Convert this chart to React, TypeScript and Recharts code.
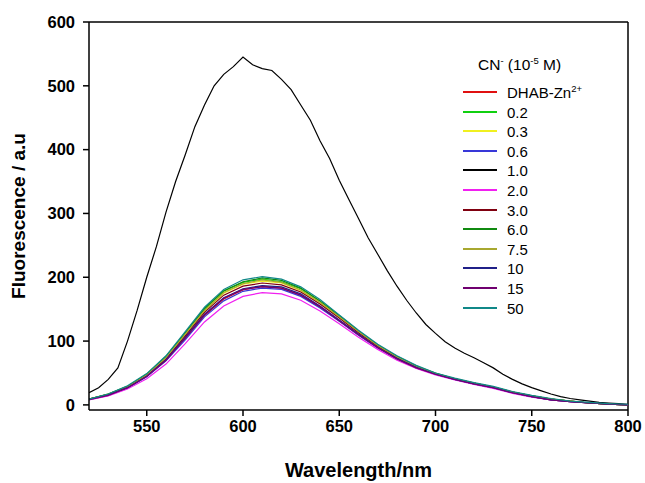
import React from 'react';
import { LineChart, Line, XAxis, YAxis, Legend, Label, ReferenceLine } from 'recharts';

const wavelengthsFine = [
  520, 525, 530, 535, 540, 545, 550, 555, 560, 565, 570, 575, 580, 585, 590, 595, 600,
  605, 610, 615, 620, 625, 630, 635, 640, 645, 650, 655, 660, 665, 670, 675, 680, 685, 690, 695, 700,
  705, 710, 715, 720, 725, 730, 735, 740, 745, 750, 755, 760, 765, 770, 775, 780, 785, 790, 795, 800,
];
const wavelengthsCoarse = [
  520, 530, 540, 550, 560, 570, 580, 590, 600, 610, 620, 630, 640, 650, 660, 670, 680, 690, 700,
  710, 720, 730, 740, 750, 760, 770, 780, 790, 800,
];

const cn10 = [
  19, 27, 40, 58, 100, 148, 200, 248, 302, 350, 392, 436, 470, 500, 518, 530, 545,
  533, 527, 524, 510, 494, 470, 446, 414, 386, 352, 322, 292, 262, 236, 210, 186, 164, 144, 126, 112,
  99, 89, 81, 74, 66, 58, 48, 40, 33, 27, 22, 17, 13, 10, 8, 6, 4, 3, 2, 1,
];
const dhab = [9, 16, 27, 45, 70, 104, 140, 166, 180, 186, 183, 172, 153, 132, 110, 90, 72, 58, 48, 40, 33, 27, 19, 13, 8, 5, 3, 1, 0];
const cn02 = [9, 17, 29, 48, 75, 112, 150, 178, 192, 197, 193, 182, 162, 139, 115, 93, 75, 60, 49, 41, 34, 28, 20, 14, 9, 6, 3, 1, 0];
const cn03 = [9, 16, 28, 47, 73, 110, 147, 175, 189, 194, 191, 179, 160, 137, 114, 92, 74, 60, 49, 41, 34, 28, 20, 14, 9, 6, 3, 1, 0];
const cn06 = [8, 15, 26, 44, 69, 102, 138, 163, 178, 183, 181, 170, 152, 131, 109, 89, 72, 58, 48, 40, 33, 27, 19, 13, 8, 5, 3, 1, 0];
const cn20 = [8, 14, 25, 41, 64, 96, 130, 155, 170, 176, 174, 164, 147, 127, 106, 87, 70, 57, 47, 39, 32, 26, 18, 12, 8, 5, 3, 1, 0];
const cn30 = [9, 16, 28, 46, 72, 108, 145, 172, 186, 191, 188, 177, 158, 136, 113, 92, 74, 60, 49, 41, 34, 28, 20, 14, 9, 6, 3, 1, 0];
const cn60 = [9, 17, 29, 48, 76, 113, 151, 179, 193, 199, 195, 183, 163, 140, 116, 94, 76, 61, 50, 41, 34, 28, 20, 14, 9, 6, 3, 1, 0];
const cn75 = [9, 17, 28, 47, 74, 111, 148, 176, 190, 196, 192, 180, 161, 138, 115, 93, 75, 60, 49, 41, 34, 28, 20, 14, 9, 6, 3, 1, 0];
const cn100 = [9, 16, 27, 45, 71, 106, 142, 168, 182, 187, 185, 174, 155, 133, 111, 90, 73, 59, 48, 40, 33, 27, 19, 13, 8, 5, 3, 1, 0];
const cn150 = [8, 15, 27, 45, 70, 105, 141, 167, 181, 185, 183, 172, 154, 132, 110, 90, 72, 58, 48, 40, 33, 27, 19, 13, 8, 5, 3, 1, 0];
const cn500 = [9, 17, 30, 49, 77, 115, 153, 181, 196, 201, 197, 185, 165, 141, 117, 95, 77, 62, 50, 42, 35, 29, 21, 15, 10, 6, 4, 2, 1];

const xTicks = [550, 600, 650, 700, 750, 800];
const yTicks = [0, 100, 200, 300, 400, 500, 600];

type Series = { key: string; label: string; color: string; x: number[]; y: number[] };

const seriesList: Series[] = [
  { key: 'dhab', label: 'DHAB-Zn', color: '#e01010', x: wavelengthsCoarse, y: dhab },
  { key: 'c02', label: '0.2', color: '#10d010', x: wavelengthsCoarse, y: cn02 },
  { key: 'c03', label: '0.3', color: '#f0f020', x: wavelengthsCoarse, y: cn03 },
  { key: 'c06', label: '0.6', color: '#3838d8', x: wavelengthsCoarse, y: cn06 },
  { key: 'c10', label: '1.0', color: '#000000', x: wavelengthsFine, y: cn10 },
  { key: 'c20', label: '2.0', color: '#f020f0', x: wavelengthsCoarse, y: cn20 },
  { key: 'c30', label: '3.0', color: '#800010', x: wavelengthsCoarse, y: cn30 },
  { key: 'c60', label: '6.0', color: '#108a10', x: wavelengthsCoarse, y: cn60 },
  { key: 'c75', label: '7.5', color: '#a8a830', x: wavelengthsCoarse, y: cn75 },
  { key: 'c100', label: '10', color: '#202088', x: wavelengthsCoarse, y: cn100 },
  { key: 'c150', label: '15', color: '#700070', x: wavelengthsCoarse, y: cn150 },
  { key: 'c500', label: '50', color: '#108888', x: wavelengthsCoarse, y: cn500 },
];

const font = '"Liberation Sans", Arial, sans-serif';

const LegendBox = () => (
  <div style={{ position: 'relative', width: 150, height: 270, fontFamily: font, fontSize: 15, color: '#000', lineHeight: 1 }}>
    <div style={{ position: 'absolute', left: 15, top: 0, height: 26, lineHeight: '26px', whiteSpace: 'nowrap', fontSize: 15.5 }}>
      CN<sup style={{ fontSize: 9.5, lineHeight: 0 }}>-</sup> (10<sup style={{ fontSize: 9.5, lineHeight: 0 }}>-5</sup> M)
    </div>
    {seriesList.map((s, i) => (
      <div
        key={s.key}
        style={{ position: 'absolute', left: 0, top: 30 + Math.round(i * 19.6), height: 20, width: 150, whiteSpace: 'nowrap' }}
      >
        <div style={{ position: 'absolute', left: 0, top: 9, width: 34, height: 2, background: s.color }} />
        <span style={{ position: 'absolute', left: 44, top: 3 }}>
          {s.label}
          {s.key === 'dhab' ? <sup style={{ fontSize: 9.5, lineHeight: 0 }}>2+</sup> : null}
        </span>
      </div>
    ))}
  </div>
);

export default function App() {
  return (
    <div style={{ position: 'absolute', left: 0, top: 0, width: 645, height: 483, background: '#fff' }}>
      <LineChart width={645} height={483} margin={{ top: 22, right: 17, left: 0, bottom: 0 }}>
        <XAxis
          type="number"
          dataKey="x"
          domain={[520, 800]}
          ticks={xTicks}
          allowDataOverflow
          height={73}
          tickSize={6}
          tickMargin={4}
          stroke="#000"
          strokeWidth={1.5}
          tick={{ fill: '#000', fontSize: 16.5, fontWeight: 'bold', fontFamily: font }}
        >
          <Label
            value="Wavelength/nm"
            position="insideBottom"
            offset={6}
            style={{ fill: '#000', fontSize: 20, fontWeight: 'bold', fontFamily: font }}
          />
        </XAxis>
        <YAxis
          type="number"
          dataKey="y"
          domain={[-8, 600]}
          ticks={yTicks}
          allowDataOverflow
          width={89}
          tickSize={6}
          tickMargin={8}
          stroke="#000"
          strokeWidth={1.5}
          tick={{ fill: '#000', fontSize: 16.5, fontWeight: 'bold', fontFamily: font }}
        >
          <Label
            value="Fluorescence / a.u"
            angle={-90}
            position="insideLeft"
            offset={18}
            style={{ fill: '#000', fontSize: 19, fontWeight: 'bold', fontFamily: font, textAnchor: 'middle' }}
          />
        </YAxis>
        <ReferenceLine y={600} stroke="#000" strokeWidth={1.5} />
        <ReferenceLine x={800} stroke="#000" strokeWidth={1.5} />
        {seriesList.map((s) => (
          <Line
            key={s.key}
            data={s.x.map((xv, i) => ({ x: xv, y: s.y[i] }))}
            dataKey="y"
            name={s.label}
            stroke={s.color}
            strokeWidth={1.2}
            dot={false}
            activeDot={false}
            type="linear"
            isAnimationActive={false}
          />
        ))}
        <Legend
          layout="vertical"
          align="center"
          verticalAlign="middle"
          content={() => <LegendBox />}
          wrapperStyle={{ position: 'absolute', left: 463, top: 52, width: 150 }}
        />
      </LineChart>
    </div>
  );
}
